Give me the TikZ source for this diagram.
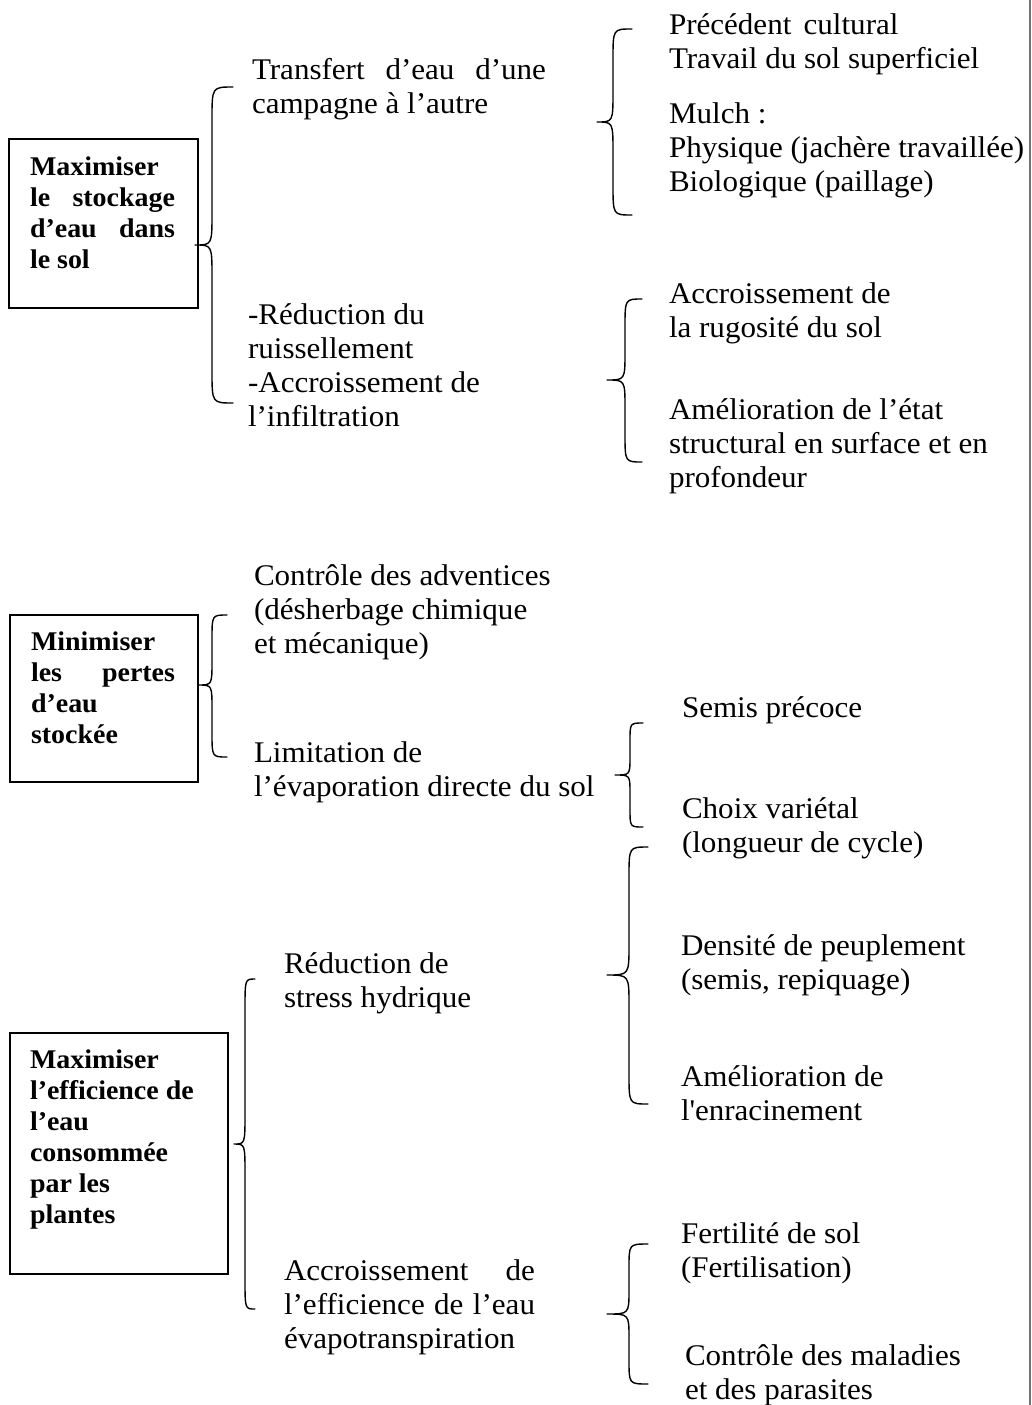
\documentclass[tikz,border=0pt]{standalone}
\usepackage{fontspec}
\setmainfont{Liberation Serif}[FakeStretch=1.035]
\begin{document}
\begin{tikzpicture}[x=1pt,y=-1pt,
  txt/.style={anchor=north west,inner sep=0pt,outer sep=0pt,align=left,
    font=\fontsize{30}{34}\selectfont,yshift=23.8pt},
  btxt/.style={anchor=north west,inner sep=0pt,outer sep=0pt,align=left,
    font=\fontsize{27}{31}\selectfont\bfseries,yshift=21.7pt},
  goalbox/.style={draw,line width=1.8pt,inner sep=0pt,anchor=north west},
  brace/.style={line width=1.4pt,line join=round,line cap=round},
  edge/.style={line width=2pt,black!55}]
\newcommand\mybrace[7]{%
  \draw[brace] (#1,#4) .. controls (#2,#4) .. (#2,{#4+#7}) -- (#2,{#5-#7})
    .. controls (#2,#5) .. (#3,#5) .. controls (#2,#5) .. (#2,{#5+#7})
    -- (#2,{#6-#7}) .. controls (#2,#6) .. (#1,#6);}
\fill[white] (0,0) rectangle (1032,1405);
\useasboundingbox (0,0) rectangle (1032,1405);
% right margin line
\coordinate (rt) at (1030,0);
\coordinate (rb) at (1030,1405);
\draw[edge] (rt) -- (rb);

% ---------- goal boxes ----------
\node[goalbox,minimum width=189pt,minimum height=169pt] (box1) at (8,138) {};
\node[btxt] (g1) at (30,175) {\strut Maximiser\\ \hbox to 145pt{le\hfill stockage}\\ \hbox to 145pt{d’eau\hfill dans}\\ le sol};

\node[goalbox,minimum width=188pt,minimum height=167pt] (box2) at (9,614) {};
\node[btxt] (g2) at (31,650) {\strut Minimiser\\ \hbox to 144pt{les\hfill pertes}\\ d’eau\\ stockée};

\node[goalbox,minimum width=218pt,minimum height=241pt] (box3) at (9,1032) {};
\node[btxt] (g3) at (30,1068) {\strut Maximiser\\ l’efficience de\\ l’eau\\ consommée\\ par les\\ plantes};

% ---------- level 2 texts ----------
\node[txt] (t1) at (252,79) {\strut\hbox to 294pt{Transfert\hfill d’eau\hfill d’une}\\ campagne à l’autre};
\node[txt] (t2) at (248,324) {\strut -Réduction du\\ ruissellement\\ -Accroissement de\\ l’infiltration};
\node[txt] (t8) at (254,585) {\strut Contrôle des adventices\\ (désherbage chimique\\ et mécanique)};
\node[txt] (t9) at (254,762) {\strut Limitation de\\ l’évaporation directe du sol};
\node[txt] (t14) at (284,973) {\strut Réduction de\\ stress hydrique};
\node[txt] (t15) at (284,1280) {\strut\hbox to 251pt{Accroissement\hfill de}\\ \hbox to 251pt{l’efficience\hfill de\hfill l’eau}\\ évapotranspiration};

% ---------- level 3 texts ----------
\node[txt] (t3) at (669,35) {\strut Précédent\hspace{0.15em} cultural\\ Travail du sol superficiel};
\node[txt] (t4) at (669,123) {\strut Mulch :\\ Physique (jachère travaillée)\\ Biologique (paillage)};
\node[txt] (t5) at (669,303) {\strut Accroissement de\\ la rugosité du sol};
\node[txt] (t6) at (669,419) {\strut Amélioration de l’état\\ structural en surface et en\\ profondeur};
\node[txt] (t10) at (682,717) {\strut Semis précoce};
\node[txt] (t11) at (682,818) {\strut Choix variétal\\ (longueur de cycle)};
\node[txt] (t12) at (681,955) {\strut Densité de peuplement\\ (semis, repiquage)};
\node[txt] (t13) at (681,1086) {\strut Amélioration de\\ l\textquotesingle enracinement};
\node[txt] (t16) at (681,1243) {\strut Fertilité de sol\\ (Fertilisation)};
\node[txt] (t17) at (685,1365) {\strut Contrôle des maladies\\ et des parasites};

% ---------- braces ----------
\mybrace{233}{212}{195}{87}{245}{403}{32}
\mybrace{632}{613}{597}{29}{122}{215}{30}
\mybrace{642}{625}{607}{299}{380}{462}{28}
\mybrace{227}{212}{198}{615}{685}{757}{24}
\mybrace{643}{630}{615}{723}{775}{827}{18}
\mybrace{648}{629}{607}{847}{975}{1104}{30}
\mybrace{255}{245}{234}{979}{1144}{1309}{30}
\mybrace{648}{629}{607}{1244}{1314}{1384}{24}
\end{tikzpicture}
\end{document}
